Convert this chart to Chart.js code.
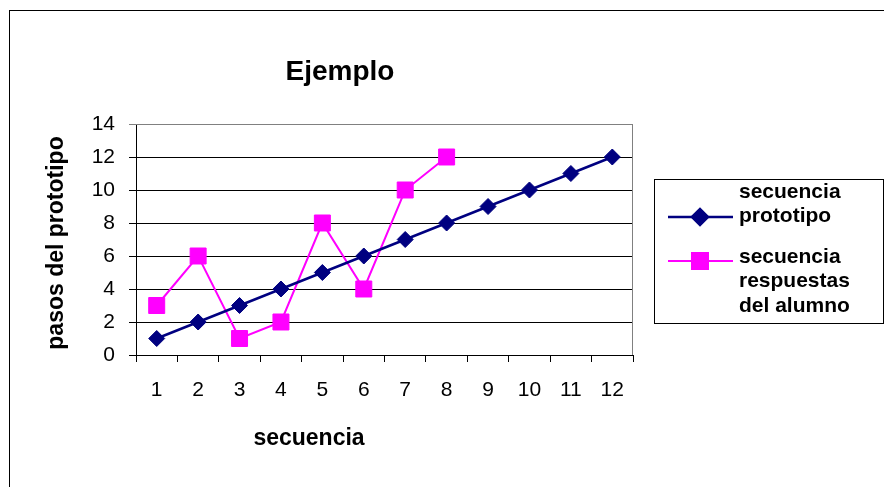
<!DOCTYPE html>
<html>
<head>
<meta charset="utf-8">
<script src="https://cdn.jsdelivr.net/npm/chart.js@4"></script>
<style>
  html, body { margin: 0; padding: 0; background: #fff; }
  #wrap { width: 884px; height: 487px; position: relative; }
</style>
</head>
<body>
<div id="wrap"><canvas id="chart" width="884" height="487"></canvas></div>
<script>
const categories = ['1', '2', '3', '4', '5', '6', '7', '8', '9', '10', '11', '12'];
const prototipo = [1, 2, 3, 4, 5, 6, 7, 8, 9, 10, 11, 12];
const alumno = [3, 6, 1, 2, 8, 4, 10, 12];
const yTicks = [0, 2, 4, 6, 8, 10, 12, 14];

const FONT = "'Liberation Sans', Arial, sans-serif";
const NAVY = '#000080';
const MAGENTA = '#FF00FF';

// frame, plot border, titles and the boxed legend drawn around the chart
const decor = {
  id: 'decor',
  beforeDraw(chart) {
    const ctx = chart.ctx;
    ctx.save();
    ctx.fillStyle = '#fff';
    ctx.fillRect(0, 0, chart.width, chart.height);
    ctx.strokeStyle = '#000';
    ctx.lineWidth = 1;
    ctx.strokeRect(9.5, 10.5, 1000, 600);
    ctx.restore();
  },
  beforeDatasetsDraw(chart) {
    const { ctx, chartArea: a } = chart;
    ctx.save();
    ctx.strokeStyle = '#808080';
    ctx.lineWidth = 1;
    ctx.beginPath();
    ctx.moveTo(a.left, a.top + 0.5);
    ctx.lineTo(a.right - 0.5, a.top + 0.5);
    ctx.lineTo(a.right - 0.5, a.bottom);
    ctx.stroke();
    ctx.restore();
  },
  afterDraw(chart) {
    const ctx = chart.ctx;
    ctx.save();
    ctx.fillStyle = '#000';
    ctx.textAlign = 'center';
    ctx.textBaseline = 'alphabetic';
    ctx.font = 'bold 28px ' + FONT;
    ctx.fillText('Ejemplo', 340, 80);
    ctx.font = 'bold 23px ' + FONT;
    ctx.fillText('secuencia', 309, 445);
    ctx.save();
    ctx.translate(63, 243);
    ctx.rotate(-Math.PI / 2);
    ctx.fillText('pasos del prototipo', 0, 0);
    ctx.restore();

    // legend box
    ctx.strokeStyle = '#000';
    ctx.lineWidth = 1;
    ctx.strokeRect(654.5, 179.5, 229, 144);
    const items = [
      { ds: chart.data.datasets[0], lineY: 217, lines: ['secuencia', 'prototipo'], textY: 192 },
      { ds: chart.data.datasets[1], lineY: 261, lines: ['secuencia', 'respuestas', 'del alumno'], textY: 257 }
    ];
    ctx.font = 'bold 21px ' + FONT;
    ctx.textAlign = 'left';
    ctx.textBaseline = 'middle';
    items.forEach(it => {
      ctx.strokeStyle = it.ds.borderColor;
      ctx.lineWidth = it.ds.borderWidth;
      ctx.beginPath();
      ctx.moveTo(668, it.lineY);
      ctx.lineTo(733, it.lineY);
      ctx.stroke();
      ctx.fillStyle = it.ds.pointBackgroundColor;
      ctx.strokeStyle = it.ds.pointBorderColor;
      Chart.helpers.drawPoint(ctx, {
        pointStyle: it.ds.pointStyle, rotation: 0,
        radius: it.ds.pointRadius, borderWidth: 1
      }, 700, it.lineY);
      ctx.fillStyle = '#000';
      it.lines.forEach((t, i) => ctx.fillText(t, 739, it.textY + i * 24.5));
    });
    ctx.restore();
  }
};

new Chart(document.getElementById('chart').getContext('2d'), {
  type: 'line',
  data: {
    labels: categories,
    datasets: [{
      label: 'secuencia prototipo',
      data: prototipo,
      borderColor: NAVY,
      borderWidth: 2.5,
      pointStyle: 'rectRot',
      pointRadius: 8,
      pointHoverRadius: 8,
      pointBackgroundColor: NAVY,
      pointBorderColor: NAVY,
      pointBorderWidth: 1,
      tension: 0
    }, {
      label: 'secuencia respuestas del alumno',
      data: alumno,
      borderColor: MAGENTA,
      borderWidth: 2,
      pointStyle: 'rect',
      pointRadius: 11.3,
      pointHoverRadius: 11.3,
      pointBackgroundColor: MAGENTA,
      pointBorderColor: MAGENTA,
      pointBorderWidth: 1,
      tension: 0
    }]
  },
  options: {
    responsive: false,
    animation: false,
    events: [],
    layout: { padding: { left: 0, right: 251, top: 124, bottom: 0 } },
    plugins: { legend: { display: false }, title: { display: false }, tooltip: { enabled: false } },
    scales: {
      x: {
        offset: true,
        afterFit(scale) { scale.height = 132; },
        grid: { offset: true, drawOnChartArea: false, drawTicks: true, tickLength: 7, color: '#000' },
        border: { color: '#000', width: 1 },
        ticks: { color: '#000', font: { family: FONT, size: 21 }, padding: 16, maxRotation: 0, autoSkip: false }
      },
      y: {
        min: 0,
        max: 14,
        afterFit(scale) { scale.width = 136; },
        afterBuildTicks(scale) { scale.ticks = yTicks.map(v => ({ value: v })); },
        grid: {
          color: ctx => (ctx.tick && ctx.tick.value === 14 ? '#808080' : '#000'),
          tickLength: 7,
          drawTicks: true
        },
        border: { color: '#000', width: 1 },
        ticks: { color: '#000', font: { family: FONT, size: 21 }, padding: 14 }
      }
    }
  },
  plugins: [decor]
});
</script>
</body>
</html>
